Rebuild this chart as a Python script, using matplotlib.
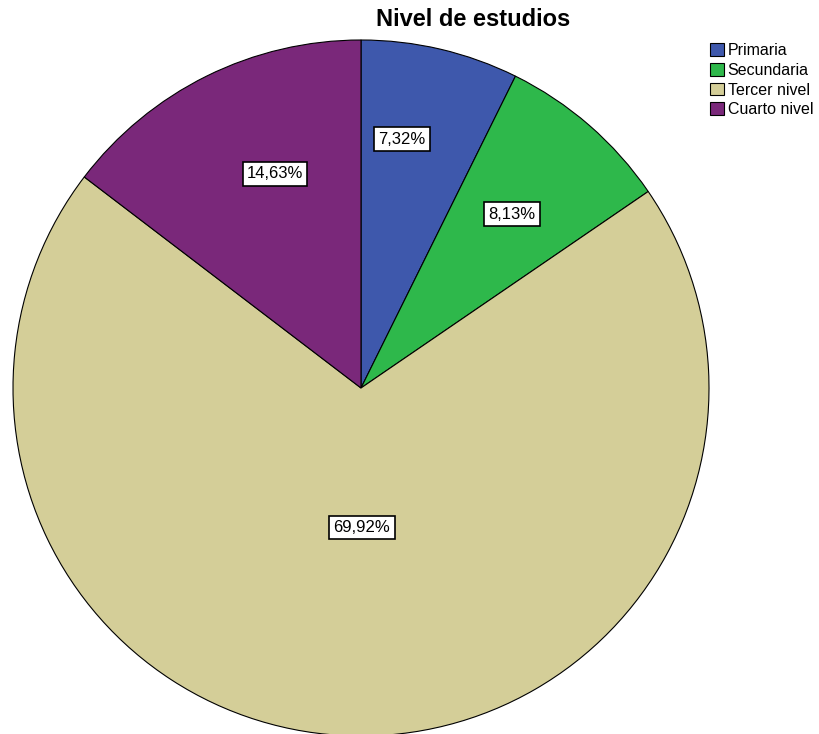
import numpy as np
import matplotlib.pyplot as plt

categorias = ["Primaria", "Secundaria", "Tercer nivel", "Cuarto nivel"]
porcentajes = [7.32, 8.13, 69.92, 14.63]
colores = ["#3e58ac", "#2eb84b", "#d4ce98", "#7a287a"]
etiquetas = ["7,32%", "8,13%", "69,92%", "14,63%"]

plt.rcParams['font.family'] = ['Liberation Sans', 'DejaVu Sans']

fig = plt.figure(figsize=(8.2, 7.34), dpi=100)
ax = fig.add_axes([13 / 820, -2 / 734, 696 / 820, 696 / 734])

wedges, _ = ax.pie(porcentajes, colors=colores, startangle=90, counterclock=False,
                   radius=1, wedgeprops=dict(edgecolor="black", linewidth=0.8))
ax.set_xlim(-1, 1)
ax.set_ylim(-1, 1)

# posición de cada etiqueta: (fracción del radio, ángulo en grados)
pos = [(0.725, 80.6), (0.662, 49.0), (0.40, -89.6), (0.663, 111.9)]
for txt, (d, a) in zip(etiquetas, pos):
    ang = np.deg2rad(a)
    ax.text(d * np.cos(ang), d * np.sin(ang), txt, ha="center", va="center", fontsize=12,
            bbox=dict(boxstyle="square,pad=0.25", facecolor="white", edgecolor="black", linewidth=1.2))

fig.text(473 / 820, 1 - 20 / 734, "Nivel de estudios", ha="center", va="center",
         fontsize=17, fontweight="bold")

fig.legend(wedges, categorias, loc="upper left", bbox_to_anchor=(710 / 820, 1 - 43 / 734),
           frameon=False, fontsize=11.5, handlelength=0.85, handleheight=0.85,
           handletextpad=0.25, labelspacing=0.3, borderpad=0, borderaxespad=0)

fig.savefig("out.png", dpi=100)
